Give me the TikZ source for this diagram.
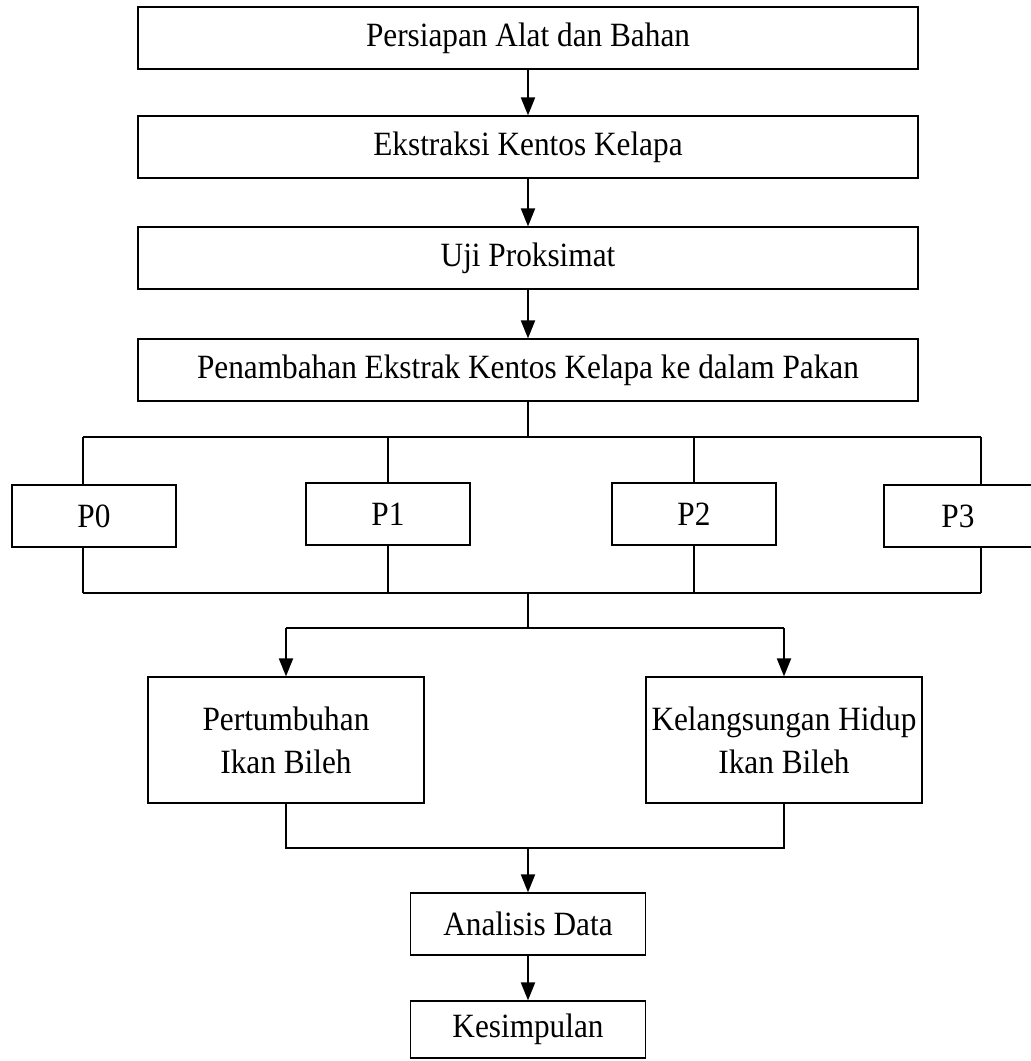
\documentclass[tikz,border=0pt]{standalone}
\usepackage{fontspec}
\setmainfont{Liberation Serif}[FakeStretch=0.92]
\usetikzlibrary{arrows.meta}

\begin{document}
\begin{tikzpicture}[x=.5pt,y=-.5pt,
		box/.style={draw,line width=.6pt,inner sep=0pt,align=center,
			minimum height=31pt,font=\fontsize{17}{21.5}\selectfont},
		garis/.style={line width=1pt},
		panah/.style={line width=1pt,-{Triangle[length=9pt,width=7pt]}}]
	\useasboundingbox (0,0) rectangle (1030,1061);
	
	\node[box,minimum width=390pt] (alat) at (528,38) {Persiapan Alat dan Bahan};
	\node[box,minimum width=390pt] (ekstraksi) at (528,147) {Ekstraksi Kentos Kelapa};
	\node[box,minimum width=390pt] (uji) at (528,258) {Uji Proksimat};
	\node[box,minimum width=390pt] (tambah) at (528,370) {Penambahan Ekstrak Kentos Kelapa ke dalam Pakan};
	
	\draw[panah] (alat) -- (ekstraksi);
	\draw[panah] (ekstraksi) -- (uji);
	\draw[panah] (uji) -- (tambah);
	
	% perlakuan
	\node[box,minimum width=82pt] (p0) at (94,516) {P0};
	\node[box,minimum width=82pt] (p1) at (388,514) {P1};
	\node[box,minimum width=82pt] (p2) at (694,514) {P2};
	\node[box,minimum width=74pt] (p3) at (958,516) {P3};
	
	\coordinate (atasi) at (83,437);
	\coordinate (atasii) at (981,437);
	\coordinate (bawahi) at (83,593);
	\coordinate (bawahii) at (981,593);
	
	\draw[garis] (tambah) -- (tambah |- atasi);
	\draw[garis] (atasi) -- (atasii);
	\draw[garis] (atasi) -- (atasi |- p0.north);
	\draw[garis] (p1 |- atasi) -- (p1);
	\draw[garis] (p2 |- atasi) -- (p2);
	\draw[garis] (atasii) -- (atasii |- p3.north);
	
	\draw[garis] (bawahi |- p0.south) -- (bawahi);
	\draw[garis] (p1) -- (p1 |- bawahi);
	\draw[garis] (p2) -- (p2 |- bawahi);
	\draw[garis] (bawahii |- p3.south) -- (bawahii);
	\draw[garis] (bawahi) -- (bawahii);
	
	% parameter
	\node[box,minimum width=138pt,minimum height=63pt] (tumbuh) at (286,740) {Pertumbuhan\\Ikan Bileh};
	\node[box,minimum width=138pt,minimum height=63pt] (hidup) at (784,740) {Kelangsungan Hidup\\Ikan Bileh};
	
	\coordinate (cabi) at (286,628);
	\coordinate (cabii) at (784,628);
	\draw[garis] (tambah |- bawahi) -- (tambah |- cabi);
	\draw[garis] (cabi) -- (cabii);
	\draw[panah] (cabi) -- (tumbuh);
	\draw[panah] (cabii) -- (hidup);
	
	\node[box,minimum width=117.5pt] (analisis) at (528,924) {Analisis Data};
	\node[box,minimum width=117.5pt,minimum height=28.5pt] (simpul) at (528,1029.5) {Kesimpulan};
	
	\coordinate (gabi) at (286,848);
	\coordinate (gabii) at (784,848);
	\draw[garis] (tumbuh) -- (gabi) -- (gabii) -- (hidup);
	\draw[panah] (gabi -| analisis) -- (analisis);
	\draw[panah] (analisis) -- (simpul);
\end{tikzpicture}
\end{document}
